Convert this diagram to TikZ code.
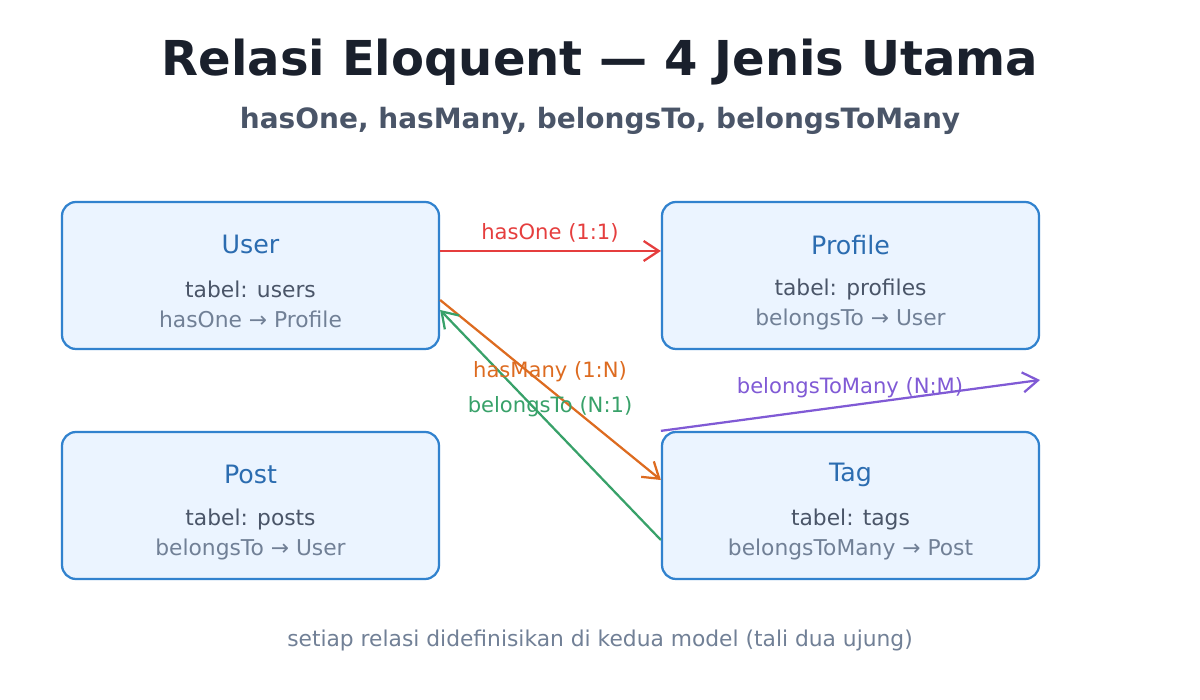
\documentclass[tikz,border=0pt]{standalone}
\usepackage{fontspec}
\setmainfont{DejaVu Sans}
\usepackage{xcolor}
\usetikzlibrary{arrows.meta}
\definecolor{boxfill}{HTML}{EBF4FF}
\definecolor{boxline}{HTML}{3182CE}
\definecolor{boxtitle}{HTML}{2B6CB0}
\definecolor{dark}{HTML}{1A202C}
\definecolor{mid}{HTML}{4A5568}
\definecolor{soft}{HTML}{718096}
\definecolor{cred}{HTML}{E53E3E}
\definecolor{corange}{HTML}{DD6B20}
\definecolor{cgreen}{HTML}{38A169}
\definecolor{cpurple}{HTML}{805AD5}
\tikzset{
  model/.style={draw=boxline, line width=1.6pt, fill=boxfill, rounded corners=0.35cm,
    minimum width=9.425cm, minimum height=3.675cm},
  mname/.style={text=boxtitle, font=\fontsize{18}{21}\selectfont},
  tbl/.style={text=mid, font=\fontsize{15.5}{18}\selectfont},
  rel/.style={text=soft, font=\fontsize{15.5}{18}\selectfont},
  link/.style={line width=1.6pt, -{Straight Barb[length=0.38cm,width=0.5cm]}},
  lbl/.style={font=\fontsize{15}{18}\selectfont}
}
\begin{document}
\begin{tikzpicture}
\useasboundingbox (0,0) rectangle (30,17.5);

\node[text=dark, font=\bfseries\fontsize{34.2}{40}\selectfont] (title) at (15,15.95) {Relasi Eloquent — 4 Jenis Utama};
\node[text=mid, font=\bfseries\fontsize{19.9}{24}\selectfont] (sub) at (15,14.475) {hasOne, hasMany, belongsTo, belongsToMany};

\node[model] (user) at (6.2625,10.6125) {};
\node[model] (profile) at (21.2625,10.6125) {};
\node[model] (post) at (6.2625,4.8625) {};
\node[model] (tag) at (21.2625,4.8625) {};

\node[mname] at ([yshift=-1.1cm]user.north) {User};
\node[tbl] at ([yshift=-2.225cm]user.north) {tabel: users};
\node[rel] at ([yshift=-2.975cm]user.north) {hasOne → Profile};

\node[mname] at ([yshift=-1.1cm]profile.north) {Profile};
\node[tbl] at ([yshift=-2.225cm]profile.north) {tabel: profiles};
\node[rel] at ([yshift=-2.975cm]profile.north) {belongsTo → User};

\node[mname] at ([yshift=-1.1cm]post.north) {Post};
\node[tbl] at ([yshift=-2.225cm]post.north) {tabel: posts};
\node[rel] at ([yshift=-2.975cm]post.north) {belongsTo → User};

\node[mname] at ([yshift=-1.1cm]tag.north) {Tag};
\node[tbl] at ([yshift=-2.225cm]tag.north) {tabel: tags};
\node[rel] at ([yshift=-2.975cm]tag.north) {belongsToMany → Post};

% relations
\coordinate (many) at (26,8);
\draw[link, cred] ([yshift=0.6125cm]user.east) -- ([yshift=0.6125cm]profile.west);
\draw[link, corange] ([yshift=-0.6125cm]user.east) -- ([yshift=0.6375cm]tag.west);
\draw[link, cgreen] ([yshift=-0.8625cm]tag.west) -- ([yshift=-0.8625cm]user.east);
\draw[link, cpurple] (tag.north west) -- (many);

\node[lbl, text=cred] (l1) at (13.75,11.675) {hasOne (1:1)};
\node[lbl, text=corange] (l2) at (13.75,8.2) {hasMany (1:N)};
\node[lbl, text=cgreen] (l3) at (13.75,7.325) {belongsTo (N:1)};
\node[lbl, text=cpurple] (l4) at (21.25,7.8) {belongsToMany (N:M)};

\node[text=soft, font=\fontsize{15.5}{18}\selectfont] (foot) at (15,1.5) {setiap relasi didefinisikan di kedua model (tali dua ujung)};
\end{tikzpicture}
\end{document}
